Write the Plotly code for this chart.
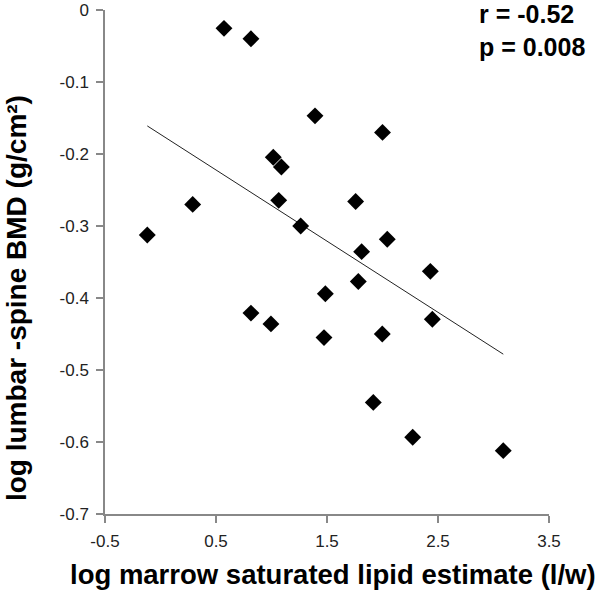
import plotly.graph_objects as go

x_vals = [-0.119, 0.29, 0.572, 0.815, 1.392, 2.0, 1.016, 1.089, 1.065, 1.758, 1.263, 2.043,
          1.812, 2.431, 1.782, 1.485, 0.815, 0.995, 1.473, 1.998, 2.449, 1.917, 2.272, 3.088]
y_vals = [-0.3125, -0.270, -0.0255, -0.040, -0.147, -0.170, -0.2046, -0.218, -0.2644, -0.266, -0.300, -0.3185,
          -0.3356, -0.363, -0.377, -0.394, -0.421, -0.436, -0.455, -0.450, -0.4296, -0.545, -0.5935, -0.612]
trend_x = [-0.119, 3.088]
trend_y = [-0.161, -0.478]
x_ticks = [-0.5, 0.5, 1.5, 2.5, 3.5]
y_ticks = [0, -0.1, -0.2, -0.3, -0.4, -0.5, -0.6, -0.7]

FONT = "Liberation Sans, Arial"

fig = go.Figure()
fig.add_trace(go.Scatter(x=trend_x, y=trend_y, mode="lines",
                         line=dict(color="#222222", width=1), showlegend=False))
fig.add_trace(go.Scatter(x=x_vals, y=y_vals, mode="markers",
                         marker=dict(symbol="diamond", size=13, color="#000000"), showlegend=False))

axis_common = dict(showgrid=False, zeroline=False, showline=True, linecolor="#888888", linewidth=1.5,
                   ticks="outside", ticklen=7, tickcolor="#888888", tickwidth=1.5, automargin=False,
                   tickfont=dict(family=FONT, size=17, color="#222222"))

fig.update_xaxes(range=[-0.5, 3.5], tickvals=x_ticks, ticktext=[str(v) for v in x_ticks],
                 ticklabelstandoff=4, **axis_common)
fig.update_yaxes(range=[-0.7, 0], tickvals=y_ticks, ticktext=["0" if v == 0 else str(v) for v in y_ticks],
                 ticklabelstandoff=4, **axis_common)

fig.add_annotation(x=0.5135, y=-0.121, xref="paper", yref="paper", xanchor="center", yanchor="middle",
                   text="<b>log marrow saturated lipid estimate (l/w)</b>", showarrow=False,
                   font=dict(family=FONT, size=27.5, color="#000000"))
fig.add_annotation(x=-0.198, y=0.4286, xref="paper", yref="paper", xanchor="center", yanchor="middle",
                   text="<b>log lumbar -spine BMD (g/cm²)</b>", showarrow=False, textangle=-90,
                   font=dict(family=FONT, size=28, color="#000000"))

fig.add_annotation(x=0.838, y=0.992, xref="paper", yref="paper", xanchor="left", yanchor="middle",
                   text="<b>r = -0.52</b>", showarrow=False, align="left",
                   font=dict(family=FONT, size=25, color="#000000"))
fig.add_annotation(x=0.838, y=0.9266, xref="paper", yref="paper", xanchor="left", yanchor="middle",
                   text="<b>p = 0.008</b>", showarrow=False, align="left",
                   font=dict(family=FONT, size=25, color="#000000"))

fig.update_layout(width=601, height=595, margin=dict(l=105, r=52, t=10, b=81),
                  plot_bgcolor="white", paper_bgcolor="white")

fig.write_html("out.html", config={"displayModeBar": False},
               post_script="document.body.style.margin='0';document.body.style.overflow='hidden';")
